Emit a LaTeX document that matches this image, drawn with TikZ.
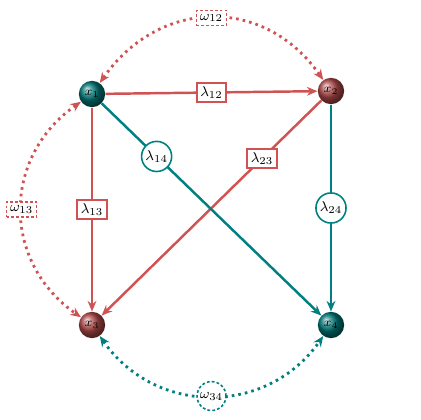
\documentclass[tikz,border=0pt]{standalone}
\usetikzlibrary{arrows.meta,shapes.geometric}
\definecolor{myred}{RGB}{208,82,82}
\definecolor{myteal}{RGB}{0,128,128}
\definecolor{ballred}{RGB}{175,72,72}
\definecolor{ballteal}{RGB}{0,118,118}
\tikzset{
  sph/.style={circle,minimum size=15pt,inner sep=0pt,font=\scriptsize},
  redball/.style={sph,shading=ball,ball color=ballred},
  tealball/.style={sph,shading=ball,ball color=ballteal},
  redline/.style={draw=myred,line width=1.4pt,-{Stealth[length=6pt,width=5pt]}},
  tealline/.style={draw=myteal,line width=1.4pt,-{Stealth[length=6pt,width=5pt]}},
  redbox/.style={draw=myred,fill=white,line width=0.9pt,rectangle,inner sep=2pt,font=\footnotesize},
  tealcirc/.style={draw=myteal,fill=white,line width=0.9pt,circle,inner sep=1pt,font=\footnotesize},
  dotline/.style={line width=1.6pt,dash pattern=on 1.5pt off 2.3pt,{Stealth[length=6pt,width=5pt]}-{Stealth[length=6pt,width=5pt]}},
  wbox/.style={draw=myred,fill=white,line width=0.9pt,dash pattern=on 1.6pt off 1.2pt,rectangle,inner sep=2pt,font=\footnotesize},
  wcirc/.style={draw=myteal,fill=white,line width=0.9pt,dash pattern=on 1.6pt off 1.2pt,circle,inner sep=1pt,font=\footnotesize}
}
\begin{document}
\begin{tikzpicture}[x=0.02cm,y=-0.02cm]
\useasboundingbox (0,0) rectangle (420,420);
\node[tealball] (x1) at (92,94) {$x_1$};
\node[redball] (x2) at (331,91) {$x_2$};
\node[redball] (x3) at (92,325) {$x_3$};
\node[tealball] (x4) at (331,325) {$x_4$};

\draw[redline] (x1) -- node[redbox,pos=0.5] (l12) {$\lambda_{12}$} (x2);
\draw[redline] (x1) -- node[redbox,pos=0.5] (l13) {$\lambda_{13}$} (x3);
\draw[redline] (x2) -- node[redbox,pos=0.27] (l23) {$\lambda_{23}$} (x3);
\draw[tealline] (x1) -- node[tealcirc,pos=0.25] (l14) {$\lambda_{14}$} (x4);
\draw[tealline] (x2) -- node[tealcirc,pos=0.5] (l24) {$\lambda_{24}$} (x4);

\draw[dotline,draw=myred] (x1) to[out=55,in=125,looseness=1.18] node[wbox,pos=0.5] (w12) {$\omega_{12}$} (x2);
\draw[dotline,draw=myred] (x1) to[out=215,in=145,looseness=1.15] node[wbox,pos=0.5] (w13) {$\omega_{13}$} (x3);
\draw[dotline,draw=myteal] (x3) to[out=-55,in=235,looseness=1.12] node[wcirc,pos=0.5] (w34) {$\omega_{34}$} (x4);
\end{tikzpicture}
\end{document}
